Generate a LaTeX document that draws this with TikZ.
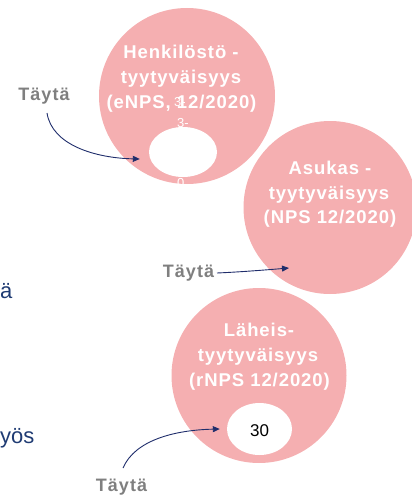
\documentclass[tikz,border=0pt]{standalone}
\usepackage{fontspec}
\setmainfont{Liberation Sans}
\newfontfamily\circfont{Liberation Sans}[LetterSpace=5]
\newfontfamily\fillfont{Liberation Sans}[LetterSpace=6]
\usetikzlibrary{arrows.meta,shapes.geometric}
\definecolor{pinkc}{HTML}{F5AFB1}
\definecolor{navy}{HTML}{1F2D6B}
\definecolor{navytext}{HTML}{1F3B73}
\definecolor{grayt}{HTML}{7F7F7F}
\tikzset{
  bigcirc/.style={circle, fill=pinkc, draw=none, inner sep=0pt, minimum size=#1},
  whiteell/.style={ellipse, fill=white, draw=none, inner sep=0pt},
  ctext/.style={text=white, font=\circfont\bfseries\fontsize{18.5}{22}\selectfont, anchor=base, inner sep=0pt},
  filltext/.style={text=grayt, font=\fillfont\bfseries\fontsize{18}{21}\selectfont, anchor=base, inner sep=0pt},
  sidetext/.style={text=navytext, font=\fontsize{22}{26}\selectfont, anchor=base west, inner sep=0pt},
  smalltext/.style={text=white, font=\fontsize{13}{15}\selectfont, inner sep=0pt},
  conn/.style={draw=navy, line width=0.9pt, -{Triangle[length=7pt,width=6pt]}},
}
\begin{document}
\begin{tikzpicture}[x=1pt,y=-1pt]
\useasboundingbox (0,0) rectangle (412,495);
\clip (0,0) rectangle (412,495);
% circles
\node[bigcirc=176pt] (c1) at (187,96) {};
\node[bigcirc=173pt] (c2) at (330,207.5) {};
\node[bigcirc=175pt] (c3) at (259,375.5) {};
% circle 1 texts
\node[ctext] (h1) at (181,58.5) {Henkilöstö -};
\node[ctext] (h2) at (181,84) {tyytyväisyys};
\node[ctext] (h3) at (181.5,108.5) {(eNPS, 12/2020)};
\node[smalltext, anchor=base west] (o1) at (174,106) {3-};
\node[smalltext, anchor=base west] (o2) at (177,127) {3-};
\node[smalltext, anchor=base west] (o3) at (177,187) {0};
% white ellipse 1
\node[whiteell, minimum width=68pt, minimum height=50pt] (e1) at (183,152) {};
% circle 2 texts
\node[ctext] (a1) at (330,174) {Asukas -};
\node[ctext] (a2) at (329,199) {tyytyväisyys};
\node[ctext] (a3) at (330,223.5) {(NPS 12/2020)};
% circle 3 texts
\node[ctext] (l1) at (259,336) {Läheis-};
\node[ctext] (l2) at (258,361) {tyytyväisyys};
\node[ctext] (l3) at (259.5,386.5) {(rNPS 12/2020)};
% white ellipse 3
\node[whiteell, minimum width=65pt, minimum height=52pt] (e3) at (259.5,429) {};
\node[text=black, font=\fontsize{17}{20}\selectfont, inner sep=0pt] (v3) at (259.5,431) {30};
% fill labels
\node[filltext] (t1) at (44,100.5) {Täytä};
\node[filltext] (t2) at (188.5,277.3) {Täytä};
\node[filltext] (t3) at (121.5,491.5) {Täytä};
% side texts
\node[sidetext] (s1) at (0,298) {ä};
\node[sidetext] (s2) at (0,443) {yös};
% connectors
\coordinate (p1s) at (47,113);
\coordinate (p2s) at (217,273);
\coordinate (p2e) at (289,268);
\coordinate (p3s) at (123,468);
\draw[conn] (p1s) .. controls (52,145) and (95,158) .. ([xshift=-9pt,yshift=-7pt]e1.west);
\draw[conn] (p2s) .. controls (240,272) and (265,270) .. (p2e);
\draw[conn] (p3s) .. controls (135,440) and (175,430) .. ([xshift=-7pt]e3.west);
\end{tikzpicture}
\end{document}
